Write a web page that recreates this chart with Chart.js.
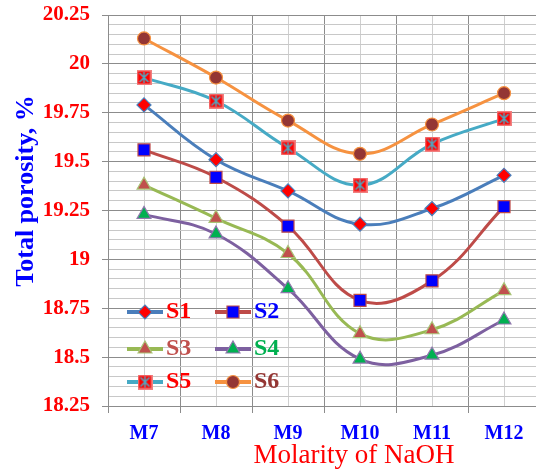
<!DOCTYPE html>
<html>
<head>
<meta charset="utf-8">
<script src="https://cdn.jsdelivr.net/npm/chart.js@4/dist/chart.umd.min.js"></script>
<style>
  html, body { margin: 0; padding: 0; background: #fff; overflow: hidden; }
  canvas { display: block; }
</style>
</head>
<body>
<canvas id="porosityChart" width="540" height="470"></canvas>
<script>
const categories = ['M7', 'M8', 'M9', 'M10', 'M11', 'M12'];
const seriesNames = ['S1', 'S2', 'S3', 'S4', 'S5', 'S6'];
const s1 = [19.79, 19.51, 19.35, 19.18, 19.26, 19.43];
const s2 = [19.56, 19.42, 19.17, 18.79, 18.89, 19.27];
const s3 = [19.38, 19.21, 19.03, 18.62, 18.64, 18.84];
const s4 = [19.23, 19.13, 18.85, 18.49, 18.51, 18.69];
const s5 = [19.93, 19.81, 19.57, 19.38, 19.59, 19.72];
const s6 = [20.13, 19.93, 19.71, 19.54, 19.69, 19.85];
const yMin = 18.25, yMax = 20.25, yStep = 0.05, yLabelStep = 0.25;
const xTitle = 'Molarity of NaOH';
const yTitle = 'Total porosity, %';

const serif = "'Liberation Serif', 'Times New Roman', serif";

// red square with an X for S5
function crossSquare() {
  const c = document.createElement('canvas');
  c.width = 15; c.height = 15;
  const g = c.getContext('2d');
  g.fillStyle = '#ff0000';
  g.fillRect(0, 0, 15, 15);
  g.strokeStyle = '#f08080';
  g.lineWidth = 1.5;
  g.strokeRect(0.75, 0.75, 13.5, 13.5);
  g.strokeStyle = '#4bacc6';
  g.lineWidth = 1.5;
  g.beginPath();
  g.moveTo(3, 3); g.lineTo(12, 12);
  g.moveTo(12, 3); g.lineTo(3, 12);
  g.moveTo(7.5, 2); g.lineTo(7.5, 13);
  g.stroke();
  return c;
}

const styles = [
  { line: '#4a7ebb', fill: '#ff0000', border: '#4a7ebb', point: 'rectRot', r: 7, text: '#ff0000' },
  { line: '#be4b48', fill: '#0000ff', border: '#be4b48', point: 'rect', r: 8.5, text: '#0000ff' },
  { line: '#98b954', fill: '#c0504d', border: '#a9c476', point: 'triangle', r: 8, text: '#c0504d' },
  { line: '#7d60a0', fill: '#00b050', border: '#8f78ad', point: 'triangle', r: 8, text: '#00b050' },
  { line: '#46aac5', fill: '#ff0000', border: '#ff0000', point: crossSquare(), r: 7.5, text: '#ff0000' },
  { line: '#f69240', fill: '#943634', border: '#f69240', point: 'circle', r: 6.5, text: '#943634' }
];
const values = [s1, s2, s3, s4, s5, s6];

const isMajor = v => Math.abs(v / yLabelStep - Math.round(v / yLabelStep)) < 1e-6;

// legend inside the plot (2 columns x 3 rows) and the two axis titles
const legendRows = [297, 334, 367];
const insideLegend = {
  id: 'insideLegend',
  afterDraw(chart) {
    const ctx = chart.ctx;
    const area = chart.chartArea;
    ctx.save();
    chart.data.datasets.forEach((ds, i) => {
      const col = i % 2, row = Math.floor(i / 2);
      const x0 = area.left + 19 + col * 88;
      const y = area.top + legendRows[row];
      ctx.strokeStyle = ds.borderColor;
      ctx.lineWidth = 4;
      ctx.beginPath();
      ctx.moveTo(x0, y);
      ctx.lineTo(x0 + 36, y);
      ctx.stroke();
      ctx.fillStyle = ds.pointBackgroundColor;
      ctx.strokeStyle = ds.pointBorderColor;
      ctx.lineWidth = ds.pointBorderWidth;
      Chart.helpers.drawPoint(ctx, {
        pointStyle: ds.pointStyle, radius: ds.pointRadius, rotation: 0, borderWidth: ds.pointBorderWidth
      }, x0 + 18, y);
      ctx.fillStyle = styles[i].text;
      ctx.font = 'bold 24px ' + serif;
      ctx.textBaseline = 'middle';
      ctx.textAlign = 'left';
      ctx.fillText(ds.label, x0 + 39, y);
    });

    // x title, a bit right of centre like the original
    ctx.textAlign = 'center';
    ctx.textBaseline = 'alphabetic';
    ctx.fillStyle = '#ff0000';
    ctx.font = '27px ' + serif;
    ctx.fillText(xTitle, area.left + 246, chart.height - 7);

    // y title, a bit above centre
    ctx.translate(33, area.top + 176);
    ctx.rotate(-Math.PI / 2);
    ctx.fillStyle = '#0000ff';
    ctx.font = 'bold 26px ' + serif;
    ctx.fillText(yTitle, 0, 0);
    ctx.restore();
  }
};

new Chart(document.getElementById('porosityChart'), {
  type: 'line',
  data: {
    labels: categories,
    datasets: values.map((v, i) => ({
      label: seriesNames[i],
      data: v,
      borderColor: styles[i].line,
      borderWidth: 3,
      tension: 0.4,
      pointStyle: styles[i].point,
      pointRadius: styles[i].r,
      pointHoverRadius: styles[i].r,
      pointBackgroundColor: styles[i].fill,
      pointBorderColor: styles[i].border,
      pointBorderWidth: 1.2,
      xAxisID: 'x',
      clip: false
    }))
  },
  options: {
    responsive: false,
    animation: false,
    layout: { autoPadding: false, padding: { top: 15, left: 0, right: 0, bottom: 0 } },
    plugins: {
      legend: { display: false },
      tooltip: { enabled: false }
    },
    scales: {
      x: {
        type: 'category',
        offset: true,
        afterFit: s => { s.height = 64; s.paddingLeft = 0; s.paddingRight = 0; },
        grid: {
          offset: true,
          color: '#8c8c8c',
          tickColor: '#8c8c8c',
          tickLength: 7,
          lineWidth: 1
        },
        border: { color: '#8c8c8c', width: 1 },
        ticks: {
          color: '#0000ff',
          padding: 9,
          font: { family: serif, size: 20, weight: 'bold' }
        }
      },
      x2: {
        type: 'category',
        position: 'top',
        labels: categories,
        offset: true,
        afterFit: s => { s.height = 0; s.paddingLeft = 0; s.paddingRight = 0; },
        grid: { offset: false, color: '#cfcfcf', drawTicks: false },
        border: { display: false },
        ticks: { display: false }
      },
      y: {
        min: yMin,
        max: yMax,
        afterFit: s => { s.width = 108; s.paddingTop = 0; s.paddingBottom = 0; },
        grid: {
          color: c => isMajor(c.tick.value) ? '#8c8c8c' : '#c8c8c8',
          tickColor: c => isMajor(c.tick.value) ? '#8c8c8c' : 'rgba(0,0,0,0)',
          tickLength: 6
        },
        border: { color: '#8c8c8c', width: 1 },
        ticks: {
          stepSize: yStep,
          maxTicksLimit: 100,
          autoSkip: false,
          padding: 12,
          color: '#ff0000',
          font: { family: serif, size: 21, weight: 'bold' },
          callback: v => isMajor(v) ? String(Math.round(v * 100) / 100) : ''
        }
      }
    }
  },
  plugins: [insideLegend]
});
</script>
</body>
</html>
